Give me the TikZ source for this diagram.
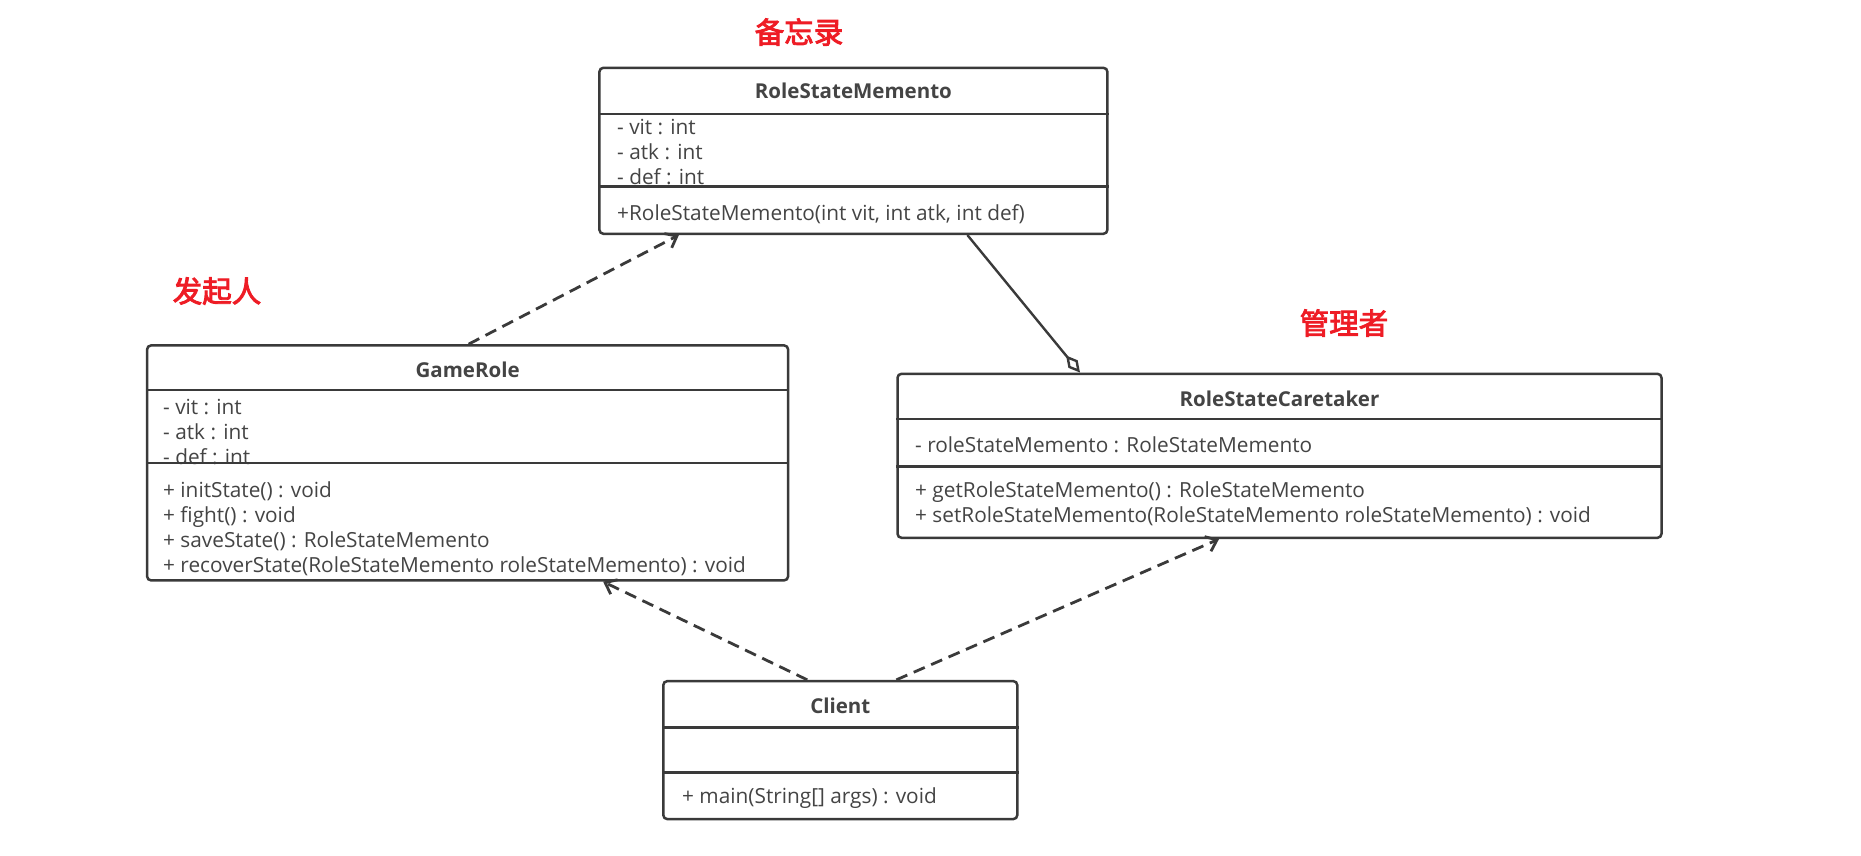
\documentclass[tikz,border=0pt]{standalone}
\usepackage{fontspec}
\setmainfont{Open Sans}
\newfontfamily\cjk[FakeBold=3]{Noto Sans CJK SC}
\usepackage{tikz}
\usetikzlibrary{arrows.meta,positioning,calc}
\definecolor{umlline}{HTML}{3A3A3A}
\definecolor{umltext}{HTML}{444444}
\definecolor{tagred}{HTML}{EE1C25}
\tikzset{
  cls/.style={draw=umlline, line width=2.5pt, rounded corners=4pt, fill=white, inner sep=0pt},
  sepline/.style={draw=umlline, line width=2.5pt},
  ttl/.style={font=\bfseries\fontsize{20.5}{24}\selectfont, text=umltext, inner sep=0pt},
  mem/.style={font=\fontsize{20.8}{25}\selectfont, text=umltext, anchor=west, align=left, inner sep=0pt},
  dep/.style={draw=umlline, line width=2.8pt, dash pattern=on 12pt off 7pt, -{Straight Barb[length=10pt,width=16pt]}},
  agg/.style={draw=umlline, line width=2.4pt, -{Diamond[open,length=22pt,width=12pt]}},
  tag/.style={font=\cjk\fontsize{29.5}{31}\selectfont, text=tagred, inner sep=0pt}
}
\begin{document}
\begin{tikzpicture}[x=1pt, y=-1pt]
\useasboundingbox (0,0) rectangle (1861,855);
% class boxes
\node[cls, minimum width=508pt, minimum height=166pt] (memento) at (853.4,150.8) {};
\node[cls, minimum width=641pt, minimum height=235pt] (gamerole) at (467.6,462.9) {};
\node[cls, minimum width=764pt, minimum height=164pt] (caretaker) at (1279.5,455.8) {};
\node[cls, minimum width=354pt, minimum height=138pt] (client) at (840.3,750.1) {};
% names
\node[ttl] (memento-t) at (853.4,91) {RoleStateMemento};
\node[ttl] (gamerole-t) at (467.6,370) {GameRole};
\node[ttl] (caretaker-t) at (1279.5,399) {RoleStateCaretaker};
\node[ttl] (client-t) at (840.3,706) {Client};
% fields and operations
\node[mem] (memento-a) at (617,152) {- vit : int\\- atk : int\\- def : int};
\node[mem] (memento-o) at (617,214) {+RoleStateMemento(int vit, int atk, int def)};
\node[mem] (gamerole-a) at (163,432) {- vit : int\\- atk : int\\- def : int};
\node[mem] (gamerole-o) at (163,528.5) {+ initState() : void\\+ fight() : void\\+ saveState() : RoleStateMemento\\+ recoverState(RoleStateMemento roleStateMemento) : void};
\node[mem] (caretaker-a) at (915,445) {- roleStateMemento : RoleStateMemento};
\node[mem] (caretaker-o) at (915,504) {+ getRoleStateMemento() : RoleStateMemento\\+ setRoleStateMemento(RoleStateMemento roleStateMemento) : void};
\node[mem] (client-o) at (682,798) {+ main(String[] args) : void};
% compartments
\draw[sepline] (memento.west |- 0,114) -- (memento.east |- 0,114);
\draw[sepline] (memento.west |- 0,186.5) -- (memento.east |- 0,186.5);
\draw[sepline] (gamerole.west |- 0,390) -- (gamerole.east |- 0,390);
\draw[sepline] (gamerole.west |- 0,463) -- (gamerole.east |- 0,463);
\draw[sepline] (caretaker.west |- 0,419) -- (caretaker.east |- 0,419);
\draw[sepline] (caretaker.west |- 0,466.5) -- (caretaker.east |- 0,466.5);
\draw[sepline] (client.west |- 0,727.6) -- (client.east |- 0,727.6);
\draw[sepline] (client.west |- 0,772.7) -- (client.east |- 0,772.7);
% roles
\node[tag] (memento-l) at (799,32) {备忘录};
\node[tag] (gamerole-l) at (217,291) {发起人};
\node[tag] (caretaker-l) at (1344,323) {管理者};
% relations
\draw[dep] ([xshift=1pt]gamerole.north) -- ([xshift=-174.5pt]memento.south);
\draw[agg] ([xshift=114pt]memento.south) -- ([xshift=-199.5pt]caretaker.north);
\draw[dep] ([xshift=-33pt]client.north) -- ([xshift=135.5pt]gamerole.south);
\draw[dep] ([xshift=56pt]client.north) -- ([xshift=-60.5pt]caretaker.south);
\end{tikzpicture}
\end{document}
